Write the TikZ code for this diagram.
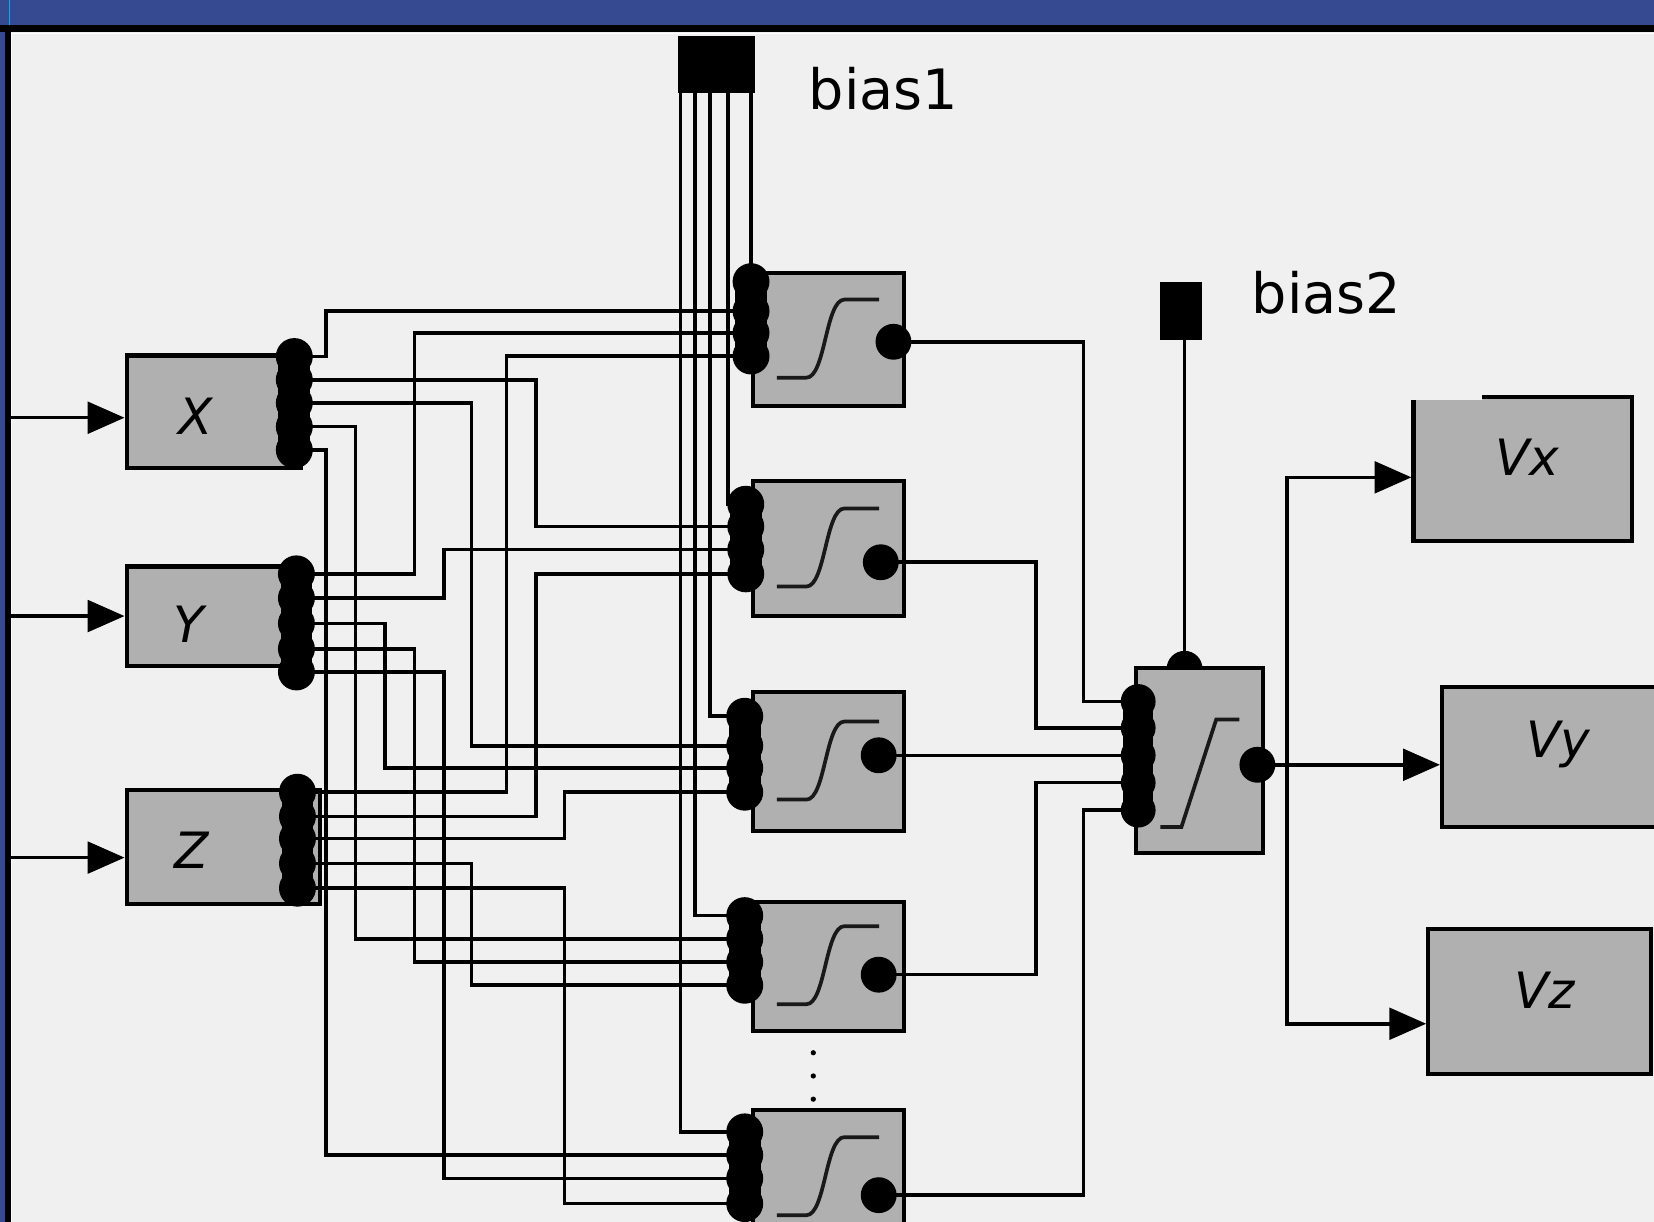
\documentclass[tikz,border=0pt]{standalone}
\usepackage{fontspec}
\setmainfont{DejaVu Sans}
\usetikzlibrary{arrows.meta,calc}
\definecolor{panel}{RGB}{240,240,240}
\definecolor{titlebar}{RGB}{54,74,146}
\definecolor{unit}{RGB}{176,176,176}
\definecolor{ink}{RGB}{25,25,25}
\tikzset{
  >={Triangle[length=3.5mm,width=3mm]},
  box/.style={draw=black,fill=unit,line width=1.1pt,inner sep=0pt},
  biasblk/.style={fill=black,inner sep=0pt},
  wire/.style={draw=black,line width=0.95pt},
  feed/.style={wire,->},
  lbl/.style={font=\fontsize{13.5}{16}\selectfont\itshape,inner sep=0pt},
  tag/.style={font=\fontsize{15}{18}\selectfont,inner sep=0pt,anchor=base west},
  % activations
  pics/sigmoid/.style={code={
    \draw[ink,line width=1pt] (-49,36) -- (-21,36) .. controls (-3,36) and (-3,-38) .. (15,-38) -- (48,-38);
  }},
  pics/ramp/.style={code={
    \draw[ink,line width=1pt] (-37,63) -- (-17,63) -- (16,-39) -- (38,-39);
  }},
}

\begin{document}
\begin{tikzpicture}[x=0.1mm,y=-0.1mm]
  \useasboundingbox (0,0) rectangle (1568,1158);
  \clip (0,0) rectangle (1568,1158);
  % window
  \fill[panel] (0,0) rectangle (1568,1158);
  \fill[titlebar] (0,0) rectangle (1568,24);
  \fill[titlebar] (0,0) rectangle (5,1158);
  \fill[black] (0,24) rectangle (1568,30);
  \fill[black] (5,24) rectangle (10,1158);
  \draw[white,line width=0.3pt] (10,31.5) -- (1568,31.5) (11,31.5) -- (11,1158);
  \draw[cyan,line width=0.3pt] (9,0) -- (9,24);

  % input units
  \node[box,minimum width=16.5mm,minimum height=10.7mm] (X) at (202.5,390.5) {};
  \node[box,minimum width=16.5mm,minimum height=9.4mm] (Y) at (202.5,584) {};
  \node[box,minimum width=18.3mm,minimum height=10.8mm] (Z) at (211.5,803) {};
  \node[lbl] (X-txt) at (185,395) {X};
  \node[lbl] (Y-txt) at (179,592) {Y};
  \node[lbl] (Z-txt) at (182,806) {Z};

  % hidden units
  \foreach \k/\cy/\hh in {1/322/12.6,2/520/12.8,3/722/13.2,4/916/12.2,5/1116/12.8}{
    \node[box,minimum width=14.3mm,minimum height=\hh mm] (h\k) at (785.5,\cy) {};
    \pic at (h\k) {sigmoid};
  }

  % output unit
  \coordinate (out-b) at (1123,634);
  \fill (out-b) circle (17);
  \node[box,minimum width=12.1mm,minimum height=17.5mm] (out) at (1137,721) {};
  \pic at (out) {ramp};

  % targets
  \node[box,minimum width=20.7mm,minimum height=13.7mm] (Vx) at (1443.5,444.5) {};
  \draw[panel,line width=1.8pt] ($(Vx.north west)+(-3,1.8)$) -- ($(Vx.north west)+(67,1.8)$);
  \node[box,minimum width=23.3mm,minimum height=13.3mm] (Vy) at (1483.5,717.5) {};
  \node[box,minimum width=21.1mm,minimum height=13.7mm] (Vz) at (1459.5,949.5) {};
  \node[lbl] (Vx-txt) at (1448,433) {Vx};
  \node[lbl] (Vy-txt) at (1477,706) {Vy};
  \node[lbl] (Vz-txt) at (1464,939) {Vz};

  % biases
  \node[biasblk,minimum width=7.3mm,minimum height=5.4mm] (bias1) at (679.5,61) {};
  \node[biasblk,minimum width=4mm,minimum height=5.5mm] (bias2) at (1119.5,294.5) {};
  \node[tag] (bias1-txt) at (766,104) {bias1};
  \node[tag] (bias2-txt) at (1186,297) {bias2};

  % ports
  \foreach \yy [count=\i] in {338,360,382,404.5,426.6} \coordinate (X-\i) at (279,\yy);
  \foreach \yy [count=\i] in {544,567,591,615,637} \coordinate (Y-\i) at (281,\yy);
  \foreach \yy [count=\i] in {751,774,795,818.5,842} \coordinate (Z-\i) at (282,\yy);
  \foreach \k/\cx/\yb/\px/\py/\pz/\ox/\oy in {1/712/267/295/315.5/337.5/847/324,
      2/707/478/499/521/544/835/533, 3/706/679/707/728/751/833/716,
      4/706/868/890/912/934/833/924, 5/706/1073/1095/1117/1141/833/1133}{
    \coordinate (h\k-b) at (\cx,\yb);
    \coordinate (h\k-x) at (\cx,\px);
    \coordinate (h\k-y) at (\cx,\py);
    \coordinate (h\k-z) at (\cx,\pz);
    \coordinate (h\k-o) at (\ox,\oy);
  }
  \foreach \yy [count=\i] in {665,690,716,742,768} \coordinate (out-\i) at (1079,\yy);
  \coordinate (out-o) at (1192,725);
  \coordinate (split) at (1220,725);
  \foreach \cl/\xx in {a/309,b/337,c/365,d/393,e/421,f/447,g/480,h/508,i/535,p/982,q/1027}
    \coordinate (col-\cl) at (\xx,0);
  \foreach \k/\xx in {1/712,2/690,3/673,4/659,5/645} \coordinate (tap\k) at (\xx,88);

  % inputs
  \foreach \nm/\yy in {X/396,Y/584,Z/813}{
    \coordinate (in\nm) at (10,\yy);
    \draw[feed] (in\nm) -- (\nm.west |- in\nm);
  }

  % input -> hidden
  \foreach \src/\cl/\dst in {X-1/a/h1-x,Y-1/d/h1-y,Z-1/g/h1-z,X-2/h/h2-x,Y-2/e/h2-y,Z-2/h/h2-z,
      X-3/f/h3-x,Y-3/c/h3-y,Z-3/i/h3-z,X-4/b/h4-x,Y-4/d/h4-y,Z-4/f/h4-z,
      X-5/a/h5-x,Y-5/e/h5-y,Z-5/i/h5-z}
    \draw[wire] (\src) -| (col-\cl |- \dst) -- (\dst);
  \foreach \k in {1,...,5} \draw[wire] (tap\k) |- (h\k-b);

  % hidden -> output
  \foreach \k/\cl in {1/q,2/p,4/p,5/q} \draw[wire] (h\k-o) -| (col-\cl |- out-\k) -- (out-\k);
  \draw[wire] (h3-o) -- (out-3);
  \draw[wire] (bias2.south -| out-b) -- (out-b);

  % output -> targets
  \draw[wire] (out-o) -- (split);
  \draw[feed] (split) |- ($(Vx.west)+(0,8)$);
  \draw[feed] (split) -- (Vy.west |- split);
  \draw[feed] (split) |- ($(Vz.west)+(0,21)$);

  % port bars
  \foreach \blk in {X,Y,Z}{
    \fill ($(\blk-1)+(-15,-8)$) rectangle ($(\blk-5)+(15,8)$);
    \foreach \i in {1,...,5} \fill (\blk-\i) circle (17.5);
  }
  \foreach \k in {1,...,5}{
    \fill ($(h\k-b)+(-15,-8)$) rectangle ($(h\k-z)+(15,8)$);
    \foreach \pp in {b,x,y,z} \fill (h\k-\pp) circle (17.5);
    \fill (h\k-o) circle (17);
  }
  \fill ($(out-1)+(-14,-8)$) rectangle ($(out-5)+(14,8)$);
  \foreach \i in {1,...,5} \fill (out-\i) circle (16.5);
  \fill (out-o) circle (17);

  % more hidden units
  \foreach \yy in {998,1020,1042} \fill (771,\yy) circle (2.5);
\end{tikzpicture}
\end{document}
